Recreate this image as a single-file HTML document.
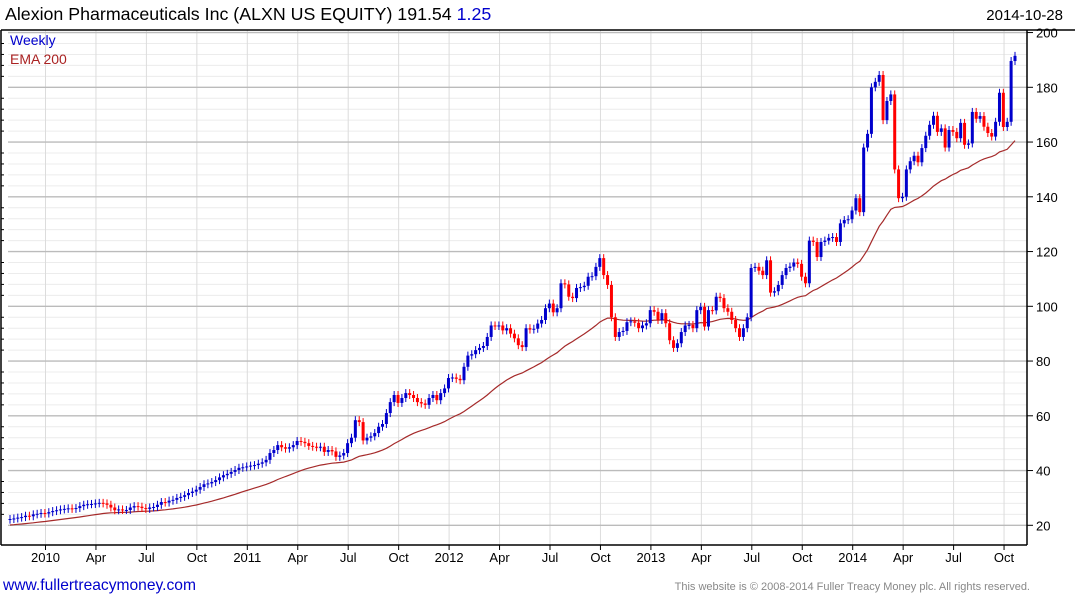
<!DOCTYPE html>
<html><head><meta charset="utf-8"><style>
body{margin:0;background:#fff;font-family:"Liberation Sans",sans-serif;}
#wrap{position:relative;width:1075px;height:600px;overflow:hidden;}
</style></head><body>
<div id="wrap">
<svg id="svg" width="1075" height="600" xmlns="http://www.w3.org/2000/svg">
<text x="5" y="20" font-size="17.8" fill="#000">Alexion Pharmaceuticals Inc (ALXN US EQUITY) 191.54 <tspan fill="#0000cc">1.25</tspan></text>
<text x="1063" y="20" font-size="15" text-anchor="end" fill="#000">2014-10-28</text>
<g id="grid"></g><g id="ema"></g><g id="candles"></g><g id="axes"></g>
<text x="10" y="45" font-size="14" fill="#0000cc">Weekly</text>
<text x="10" y="64" font-size="14" fill="#aa2222">EMA 200</text>
<text x="3" y="590" font-size="15.6" fill="#0000cc">www.fullertreacymoney.com</text>
<text x="1030" y="590" font-size="11" text-anchor="end" fill="#888">This website is © 2008-2014 Fuller Treacy Money plc. All rights reserved.</text>
</svg></div>
<script>
const closes=[22.3,22.5,22.8,23,23.5,23.3,24,24.2,24.5,24.3,24.8,25.2,25.5,25.8,26,26.2,26,26.3,27,27.5,27.7,27.8,28,28.2,28,27.5,26.5,25.5,25.8,25.6,25.6,26.5,27,26.8,26.3,26,26.5,26.7,27.5,28.5,28.3,29,29.3,30,30.4,31,31.8,32.3,33,34,35,35.3,35.8,36.5,37.5,
38.3,38.8,39.5,40.2,41,41.2,41.5,41.8,42,42.5,43,43.9,46.4,47.5,49.3,48.5,48,48.5,49.3,50.8,50.5,50,49,48.7,48.5,48.7,46.8,47.5,47,45,45.5,46.4,50,52,58.4,57.7,51,52,52.5,53.7,56,57,61,65,67.6,64.7,66.5,68.3,67.6,66.5,65,64.5,64,66.5,67.6,65.7,68.3,70,73.8,
74,73.5,73,77.9,82,82.5,84,84.8,85.5,88.8,93,92.8,93,91.2,92,90,88.3,85.8,85.1,92,91.5,91.8,93.7,95,99.3,101,97.8,99.3,108.4,108,103.5,103,106.7,107,107.5,110.8,111,114.4,117.6,111.4,107.8,96,88.8,90.6,91,94.2,94.5,94,92,
93,93.8,98.6,98,95,97.5,93.8,87.6,84.8,86.5,90.6,93,93.2,92,98.6,99.8,92.6,98.6,98.5,103.5,103,99.3,98,95,92,88.8,92,96,114,114.4,113,111.4,116.8,105,105.5,107.8,111.4,114,114.5,116,115.5,110.8,108.4,124,123.5,118,123.5,124,125,125.3,123.5,130.3,131.5,131.8,135,139.5,134.4,158,163,180,182,184.5,168,175,177.4,150,139.5,140,150,153,155,152.6,157.8,162.3,166.3,169.6,163.7,165,158,164.4,163.7,161.4,167,159,159.5,171,168.5,169.5,165.6,163.3,162,167.4,178,165.5,167.4,189.6,191.5];
const yTicks=[20,40,60,80,100,120,140,160,180,200];
const xLabels=["2010","Apr","Jul","Oct","2011","Apr","Jul","Oct","2012","Apr","Jul","Oct","2013","Apr","Jul","Oct","2014","Apr","Jul","Oct"];
const emaPeriod=40;
const NS="http://www.w3.org/2000/svg";
const L=8,R=1027,T=30,B=545;
const yS=v=>525.3-(v-20)*2.7375;
const N=closes.length;
const xS=i=>10+i*(1005/(N-1));
const qx=k=>45.5+k*50.45;
function mk(tag,attrs,parent){const e=document.createElementNS(NS,tag);for(const k in attrs)e.setAttribute(k,attrs[k]);parent.appendChild(e);return e;}
const grid=document.getElementById('grid'),axes=document.getElementById('axes');
for(let v=20;v<=200;v+=4){if(yTicks.includes(v))continue;const y=yS(v);
 const l=mk('line',{x1:L,x2:R,y1:y,y2:y,stroke:'#ececec','stroke-width':1},grid);
 
 const t=mk('line',{x1:1,x2:4,y1:y,y2:y,stroke:'#000'},axes);}
for(let k=-1;k<xLabels.length;k++){const x=qx(k);
 const l=mk('line',{x1:x,x2:x,y1:T,y2:B,stroke:'#dcdcdc','stroke-width':1},grid);
 
 const t=mk('line',{x1:x,x2:x,y1:B,y2:B+5,stroke:'#000'},axes);
 if(k>=0){const tx=mk('text',{x:x,y:562,'font-size':13,'text-anchor':'middle',fill:'#000'},axes);tx.textContent=xLabels[k];
 }}
yTicks.forEach(v=>{const y=yS(v);
 const l=mk('line',{x1:L,x2:R,y1:y,y2:y,stroke:'#bbbbbb','stroke-width':1.3},grid);
 
 const t=mk('line',{x1:R,x2:R+6,y1:y,y2:y,stroke:'#000'},axes);
 const tx=mk('text',{x:1036,y:y+5,'font-size':13,fill:'#000'},axes);tx.textContent=v;
 });
[['M'+R+' '+T+'V'+B,'right-axis'],['M1 '+T+'V'+B,'left-axis'],['M1 '+B+'H'+R,'x-axis'],['M1 '+T+'H1075','top-border']].forEach(([d,n])=>{
 const p=mk('path',{d:d,stroke:'#000','stroke-width':1.5,fill:'none'},axes);});
const a=2/(emaPeriod+1);let e=20;const pts=[];
closes.forEach((c,i)=>{e=e+a*(c-e);pts.push(xS(i).toFixed(1)+','+yS(e).toFixed(1));});
const ep=mk('polyline',{points:pts.join(' '),fill:'none',stroke:'#a52a2a','stroke-width':1.2},document.getElementById('ema'));

const cg=document.getElementById('candles');
closes.forEach((c,i)=>{const o=i?closes[i-1]:c*0.99;const up=c>=o;const col=up?'#0000cc':'#ff0000';
 const x=xS(i);const yt=yS(Math.max(o,c)),yb=yS(Math.min(o,c));
 const w=mk('line',{x1:x,x2:x,y1:yt-4,y2:yb+4,stroke:col,'stroke-width':1},cg);
 
 const r=mk('rect',{x:x-1.5,y:yt,width:3,height:Math.max(1,yb-yt),fill:col},cg);
 });
</script>
</body></html>
